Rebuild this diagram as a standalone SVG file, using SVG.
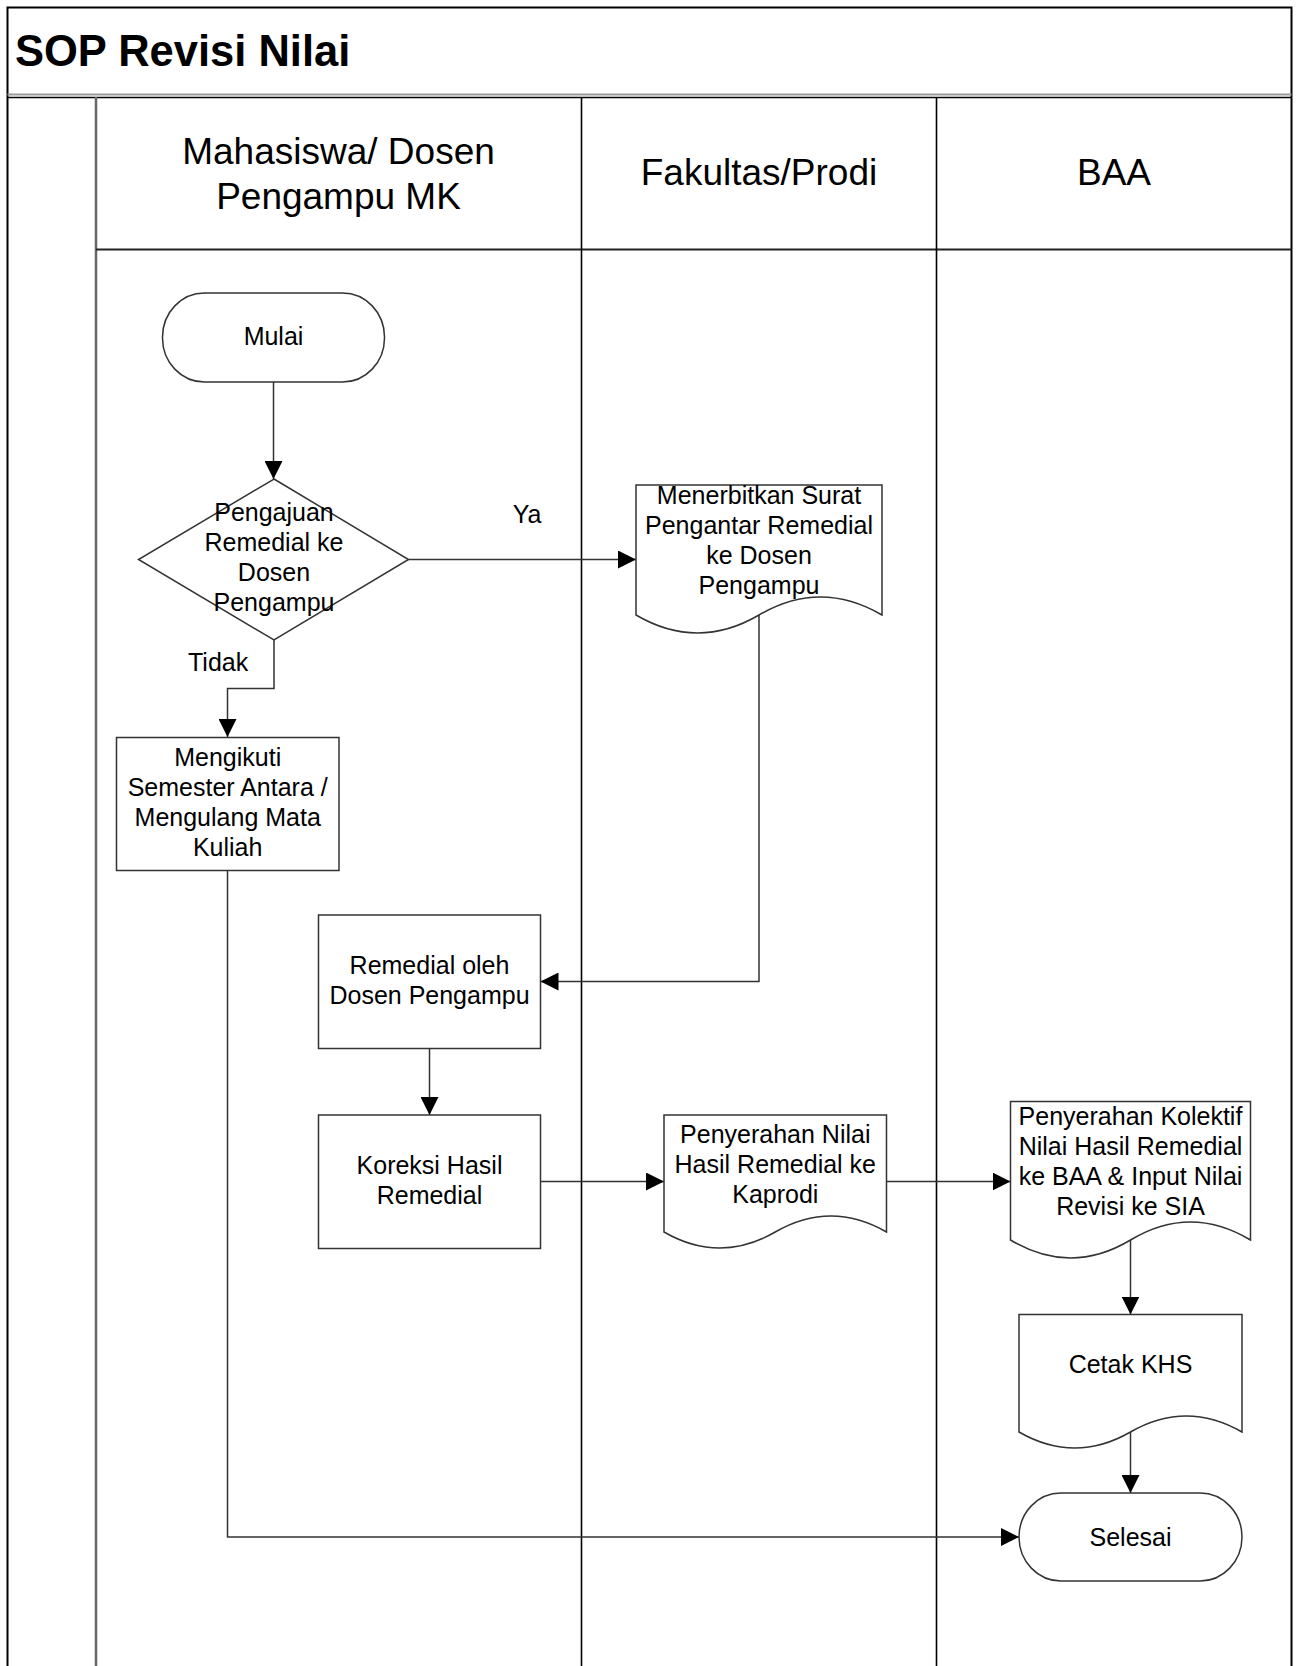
<svg xmlns="http://www.w3.org/2000/svg" width="1297" height="1666" viewBox="0 0 1297 1666">
<style>
text{font-family:"Liberation Sans",Arial,sans-serif;fill:#000}
.t{font-size:25px;text-anchor:middle}
.h{font-size:37px;text-anchor:middle}
.shape{fill:#fff;stroke:#333;stroke-width:1.5}
.conn{fill:none;stroke:#333;stroke-width:1.5}
.lane{fill:none;stroke:#000;stroke-width:1.6}
</style>
<defs>
<marker id="arr" markerUnits="userSpaceOnUse" markerWidth="18" markerHeight="18" viewBox="0 0 18 18" refX="18" refY="9" orient="auto">
<path d="M0,0 L18,9 L0,18 Z" fill="#000"/>
</marker>
</defs>
<rect width="1297" height="1666" fill="#fff"/>
<g id="frame">
<rect x="7.5" y="7.5" width="1284" height="1700" fill="none" stroke="#000" stroke-width="2"/>
<line x1="7.5" y1="94.5" x2="1291.5" y2="94.5" stroke="#999" stroke-width="2.2"/>
<line x1="7.5" y1="97.5" x2="1291.5" y2="97.5" stroke="#000" stroke-width="1.5"/>
<line x1="96" y1="97" x2="96" y2="1666" stroke="#666" stroke-width="2.5"/>
<line x1="96" y1="249.5" x2="1291.5" y2="249.5" stroke="#222" stroke-width="2"/>
<line class="lane" x1="581.5" y1="97" x2="581.5" y2="1666"/>
<line class="lane" x1="936.5" y1="97" x2="936.5" y2="1666"/>
<text x="15" y="66" font-size="43.5" font-weight="bold">SOP Revisi Nilai</text>
</g>
<g id="lane-headers">
<text class="h" x="338.5" y="163.5">Mahasiswa/ Dosen</text>
<text class="h" x="338.5" y="208.5">Pengampu MK</text>
<text class="h" x="759" y="184.5">Fakultas/Prodi</text>
<text class="h" x="1114" y="184.5">BAA</text>
</g>
<g id="connectors">
<line class="conn" x1="273.5" y1="382" x2="273.5" y2="479" marker-end="url(#arr)"/>
<line class="conn" x1="408.5" y1="559.5" x2="636" y2="559.5" marker-end="url(#arr)"/>
<path class="conn" d="M274,640 V688.5 H227.5 V737" marker-end="url(#arr)"/>
<path class="conn" d="M759,615 V981.5 H540.5" marker-end="url(#arr)"/>
<line class="conn" x1="429.5" y1="1048.5" x2="429.5" y2="1115" marker-end="url(#arr)"/>
<line class="conn" x1="540.5" y1="1181.5" x2="664" y2="1181.5" marker-end="url(#arr)"/>
<line class="conn" x1="886.5" y1="1181.5" x2="1010.5" y2="1181.5" marker-end="url(#arr)"/>
<line class="conn" x1="1130.5" y1="1240" x2="1130.5" y2="1314.5" marker-end="url(#arr)"/>
<line class="conn" x1="1130.5" y1="1432" x2="1130.5" y2="1493" marker-end="url(#arr)"/>
<path class="conn" d="M227.5,870.5 V1537 H1019" marker-end="url(#arr)"/>
<text x="527" y="523" font-size="25" text-anchor="middle">Ya</text>
<text x="188" y="671" font-size="25">Tidak</text>
</g>
<g id="mulai">
<rect class="shape" x="162.5" y="293" width="222" height="89" rx="42" ry="44"/>
<text class="t" x="273.5" y="345">Mulai</text>
</g>
<g id="pengajuan">
<polygon class="shape" points="274,479 408.5,559.5 274,640 138.5,559.5"/>
<text class="t" x="274" y="520.7">Pengajuan</text>
<text class="t" x="274" y="550.7">Remedial ke</text>
<text class="t" x="274" y="580.7">Dosen</text>
<text class="t" x="274" y="610.7">Pengampu</text>
</g>
<g id="menerbitkan">
<path class="shape" d="M636,485 H882 V615 Q820.5,579 759,615 Q697.5,651 636,615 Z"/>
<text class="t" x="759" y="503.5">Menerbitkan Surat</text>
<text class="t" x="759" y="533.5">Pengantar Remedial</text>
<text class="t" x="759" y="563.5">ke Dosen</text>
<text class="t" x="759" y="593.5">Pengampu</text>
</g>
<g id="mengikuti">
<rect class="shape" x="116.5" y="737.5" width="222.5" height="133"/>
<text class="t" x="227.7" y="766">Mengikuti</text>
<text class="t" x="227.7" y="796">Semester Antara /</text>
<text class="t" x="227.7" y="826">Mengulang Mata</text>
<text class="t" x="227.7" y="856">Kuliah</text>
</g>
<g id="remedial">
<rect class="shape" x="318.5" y="915" width="222" height="133.5"/>
<text class="t" x="429.5" y="974">Remedial oleh</text>
<text class="t" x="429.5" y="1004">Dosen Pengampu</text>
</g>
<g id="koreksi">
<rect class="shape" x="318.5" y="1115" width="222" height="133.5"/>
<text class="t" x="429.5" y="1174">Koreksi Hasil</text>
<text class="t" x="429.5" y="1204">Remedial</text>
</g>
<g id="penyerahan-nilai">
<path class="shape" d="M664,1115 H886.5 V1232 Q830.9,1200 775.25,1232 Q719.6,1264 664,1232 Z"/>
<text class="t" x="775.3" y="1143.3">Penyerahan Nilai</text>
<text class="t" x="775.3" y="1173.3">Hasil Remedial ke</text>
<text class="t" x="775.3" y="1203">Kaprodi</text>
</g>
<g id="penyerahan-kolektif">
<path class="shape" d="M1010.5,1101.5 H1250.5 V1240 Q1190.5,1204 1130.5,1240 Q1070.5,1276 1010.5,1240 Z"/>
<text class="t" x="1130.5" y="1125">Penyerahan Kolektif</text>
<text class="t" x="1130.5" y="1155">Nilai Hasil Remedial</text>
<text class="t" x="1130.5" y="1185">ke BAA &amp; Input Nilai</text>
<text class="t" x="1130.5" y="1215">Revisi ke SIA</text>
</g>
<g id="cetak-khs">
<path class="shape" d="M1019,1314.5 H1242 V1432 Q1186.25,1400 1130.5,1432 Q1074.75,1464 1019,1432 Z"/>
<text class="t" x="1130.5" y="1373">Cetak KHS</text>
</g>
<g id="selesai">
<rect class="shape" x="1019" y="1493" width="223" height="88" rx="42" ry="44"/>
<text class="t" x="1130.5" y="1546">Selesai</text>
</g>
</svg>
